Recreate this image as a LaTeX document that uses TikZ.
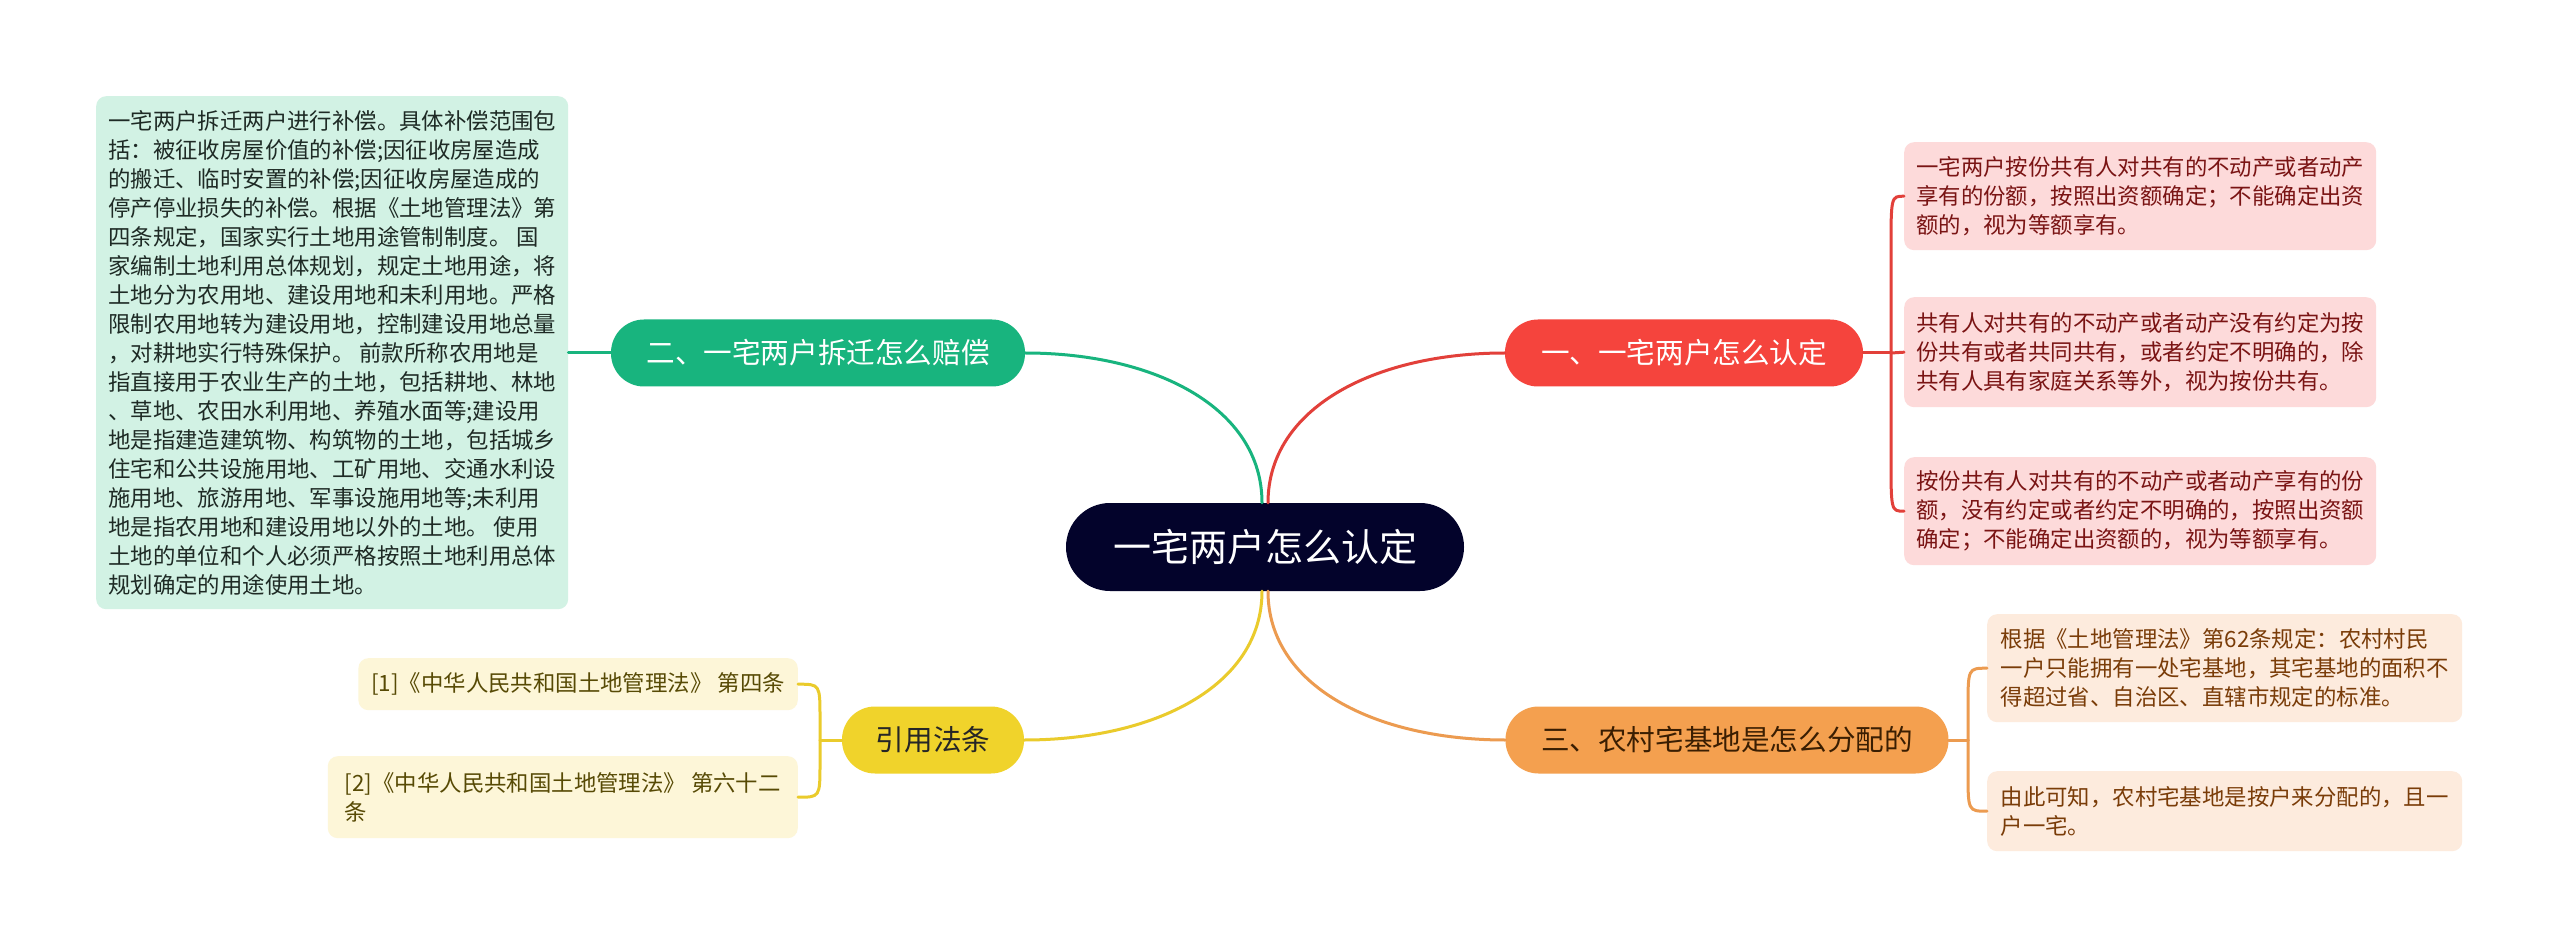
\documentclass[tikz,border=0pt]{standalone}
\usepackage{fontspec}
\setmainfont{Noto Sans CJK SC}
\usetikzlibrary{calc}
\definecolor{cNavy}{HTML}{03032B}
\definecolor{gMain}{HTML}{18B47E}
\definecolor{gLeaf}{HTML}{D2F2E4}
\definecolor{gText}{HTML}{1E2A25}
\definecolor{rMain}{HTML}{F5443D}
\definecolor{rLine}{HTML}{E2403A}
\definecolor{rLeaf}{HTML}{FDDADA}
\definecolor{rText}{HTML}{7A1414}
\definecolor{oMain}{HTML}{F4A04F}
\definecolor{oLine}{HTML}{EC9B50}
\definecolor{oLeaf}{HTML}{FDEBDD}
\definecolor{oText}{HTML}{7A3C08}
\definecolor{oNText}{HTML}{3A1E02}
\definecolor{yMain}{HTML}{F0D32B}
\definecolor{yLine}{HTML}{EACB2C}
\definecolor{yLeaf}{HTML}{FDF6D8}
\definecolor{yText}{HTML}{574A05}
\begin{document}
\begin{tikzpicture}[x=1pt,y=-1pt,
  topic/.style={rounded corners=33pt, minimum height=67pt, inner sep=0pt, font=\fontsize{28.6}{34}\selectfont},
  leaf/.style={rounded corners=10pt, align=left, inner xsep=11pt, inner ysep=0pt, font=\fontsize{22.4}{29}\selectfont},
  link/.style={line width=3pt, line cap=round}]
\fill[white] (0,0) rectangle (2560,949);
\useasboundingbox (0,0) rectangle (2560,949);

% central node
\node[fill=cNavy, text=white, rounded corners=44pt, minimum width=398pt, minimum height=88pt, inner sep=0pt,
  font=\fontsize{38}{44}\selectfont] (c) at (1265,547) {一宅两户怎么认定};

% main topics
\node[topic, fill=gMain, text=white, minimum width=414pt] (g) at (818,353) {二、一宅两户拆迁怎么赔偿};
\node[topic, fill=rMain, text=white, minimum width=358pt] (r) at (1684,353) {一、一宅两户怎么认定};
\node[topic, fill=yMain, text=black!85, minimum width=182pt] (y) at (933,740) {引用法条};
\node[topic, fill=oMain, text=oNText, minimum width=443pt] (o) at (1727,740) {三、农村宅基地是怎么分配的};

% green leaf
\node[leaf, fill=gLeaf, text=gText, anchor=north west, minimum width=472pt, minimum height=513pt] (gl) at (96,96) {一宅两户拆迁两户进行补偿。具体补偿范围包\\
括：被征收房屋价值的补偿;因征收房屋造成\\
的搬迁、临时安置的补偿;因征收房屋造成的\\
停产停业损失的补偿。根据《土地管理法》第\\
四条规定，国家实行土地用途管制制度。 国\\
家编制土地利用总体规划，规定土地用途，将\\
土地分为农用地、建设用地和未利用地。严格\\
限制农用地转为建设用地，控制建设用地总量\\
，对耕地实行特殊保护。 前款所称农用地是\\
指直接用于农业生产的土地，包括耕地、林地\\
、草地、农田水利用地、养殖水面等;建设用\\
地是指建造建筑物、构筑物的土地，包括城乡\\
住宅和公共设施用地、工矿用地、交通水利设\\
施用地、旅游用地、军事设施用地等;未利用\\
地是指农用地和建设用地以外的土地。 使用\\
土地的单位和个人必须严格按照土地利用总体\\
规划确定的用途使用土地。};

% red leaves
\node[leaf, fill=rLeaf, text=rText, anchor=north west, minimum width=472pt, minimum height=108pt] (r1) at (1904,142) {一宅两户按份共有人对共有的不动产或者动产\\享有的份额，按照出资额确定；不能确定出资\\额的，视为等额享有。};
\node[leaf, fill=rLeaf, text=rText, anchor=north west, minimum width=472pt, minimum height=110pt] (r2) at (1904,297) {共有人对共有的不动产或者动产没有约定为按\\份共有或者共同共有，或者约定不明确的，除\\共有人具有家庭关系等外，视为按份共有。};
\node[leaf, fill=rLeaf, text=rText, anchor=north west, minimum width=472pt, minimum height=108pt] (r3) at (1904,457) {按份共有人对共有的不动产或者动产享有的份\\额，没有约定或者约定不明确的，按照出资额\\确定；不能确定出资额的，视为等额享有。};

% orange leaves
\node[leaf, fill=oLeaf, text=oText, anchor=north west, minimum width=475pt, minimum height=108pt] (o1) at (1987,614) {根据《土地管理法》第62条规定：农村村民\\一户只能拥有一处宅基地，其宅基地的面积不\\得超过省、自治区、直辖市规定的标准。};
\node[leaf, fill=oLeaf, text=oText, anchor=north west, minimum width=475pt, minimum height=80pt] (o2) at (1987,771) {由此可知，农村宅基地是按户来分配的，且一\\户一宅。};

% yellow leaves
\node[leaf, fill=yLeaf, text=yText, anchor=north east, minimum height=52pt, inner xsep=13pt] (y1) at (798,658) {[1]《中华人民共和国土地管理法》 第四条};
\node[leaf, fill=yLeaf, text=yText, anchor=north east, minimum width=470pt, minimum height=82pt] (y2) at (798,756) {[2]《中华人民共和国土地管理法》 第六十二\\条};

% connectors from centre
\coordinate (ctl) at ($(c.north)+(-3,0)$);
\coordinate (ctr) at ($(c.north)+(3,0)$);
\coordinate (cbl) at ($(c.south)+(-3,0)$);
\coordinate (cbr) at ($(c.south)+(3,0)$);
\draw[link, gMain] (ctl) .. controls ($(ctl)+(0,-95)$) and ($(g.east)+(130,0)$) .. (g.east);
\draw[link, rLine] (ctr) .. controls ($(ctr)+(0,-95)$) and ($(r.west)+(-130,0)$) .. (r.west);
\draw[link, yLine] (cbl) .. controls ($(cbl)+(0,95)$) and ($(y.east)+(130,0)$) .. (y.east);
\draw[link, oLine] (cbr) .. controls ($(cbr)+(0,95)$) and ($(o.west)+(-130,0)$) .. (o.west);

% green branch
\draw[link, gMain] (g.west) -- (gl.east |- g.west);

% red bracket
\coordinate (jr) at (1891,353);
\draw[link, rLine] (r.east) -- (jr);
\draw[link, rLine] (jr) -- ($(jr |- r1.west)+(0,55)$) .. controls (jr |- r1.west) .. (r1.west);
\draw[link, rLine] (jr) -- (r2.west);
\draw[link, rLine] (jr) -- ($(jr |- r3.west)+(0,-55)$) .. controls (jr |- r3.west) .. (r3.west);

% orange bracket
\coordinate (jo) at (1968,740);
\draw[link, oLine] (o.east) -- (jo);
\draw[link, oLine] (jo) -- ($(jo |- o1.west)+(0,40)$) .. controls (jo |- o1.west) .. (o1.west);
\draw[link, oLine] (jo) -- ($(jo |- o2.west)+(0,-40)$) .. controls (jo |- o2.west) .. (o2.west);

% yellow bracket
\coordinate (jy) at (820,740);
\draw[link, yLine] (y.west) -- (jy);
\draw[link, yLine] (jy) -- ($(jy |- y1.east)+(0,34)$) .. controls (jy |- y1.east) .. (y1.east);
\draw[link, yLine] (jy) -- ($(jy |- y2.east)+(0,-34)$) .. controls (jy |- y2.east) .. (y2.east);
\end{tikzpicture}
\end{document}
